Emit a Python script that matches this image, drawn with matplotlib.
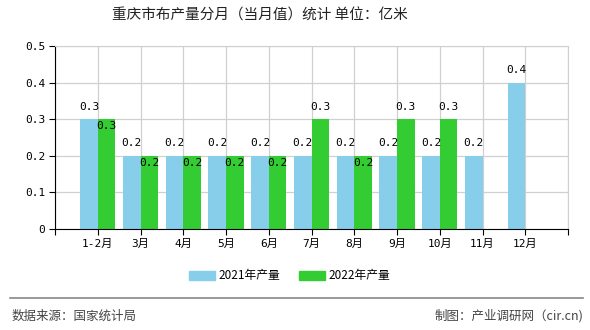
import numpy as np
import matplotlib.pyplot as plt
from matplotlib.patches import Patch

months = ["1-2月", "3月", "4月", "5月", "6月", "7月", "8月", "9月", "10月", "11月", "12月"]
y2021 = [0.3, 0.2, 0.2, 0.2, 0.2, 0.2, 0.2, 0.2, 0.2, 0.2, 0.4]
y2022 = [0.3, 0.2, 0.2, 0.2, 0.2, 0.3, 0.2, 0.3, 0.3, None, None]
yticks = [0, 0.1, 0.2, 0.3, 0.4, 0.5]
ytick_labels = ["0", "0.1", "0.2", "0.3", "0.4", "0.5"]

c21 = "#87CEEB"
c22 = "#33CC33"
numfont = ["DejaVu Sans Mono", "Noto Sans CJK SC"]
cjk = ["Noto Sans CJK SC", "DejaVu Sans"]

fig = plt.figure(figsize=(5.9, 3.3), dpi=100)
ax = fig.add_axes([55 / 590, 101 / 330, 513 / 590, 183 / 330])

x = np.arange(1, len(months) + 1)
w = 0.41
ax.bar(x - w / 2, y2021, width=w, color=c21, zorder=2)
x22 = [xi for xi, v in zip(x, y2022) if v is not None]
v22 = [v for v in y2022 if v is not None]
ax.bar(np.array(x22) + w / 2, v22, width=w, color=c22, zorder=2)

for xi, v in zip(x, y2021):
    ax.text(xi - w / 2, v + 0.02, f"{v:.1f}", ha="center", va="bottom",
            fontsize=8, family=numfont, zorder=3)
for xi, v, b in zip(x, y2022, y2021):
    if v is None:
        continue
    if v > b:
        ax.text(xi + w / 2, v + 0.02, f"{v:.1f}", ha="center", va="bottom",
                fontsize=8, family=numfont, zorder=3)
    else:
        ax.text(xi + w / 2, v - 0.005, f"{v:.1f}", ha="center", va="top",
                fontsize=8, family=numfont, zorder=3)

ax.set_xlim(0, len(months) + 1)
ax.set_ylim(0, 0.5)
ax.set_xticks(np.arange(0, len(months) + 2))
ax.set_xticklabels([""] + months + [""], family=numfont, fontsize=8)
ax.set_yticks(yticks)
ax.set_yticklabels(ytick_labels, family=numfont, fontsize=8)
ax.grid(True, color="#d0d0d0", linewidth=0.9, zorder=0)
ax.set_axisbelow(True)
for s in ["top", "right"]:
    ax.spines[s].set_color("#d0d0d0")
ax.spines["left"].set_color("black")
ax.spines["bottom"].set_color("black")
ax.tick_params(length=4, width=0.8, pad=3)

fig.text(260 / 590, 1 - 16 / 330, "重庆市布产量分月（当月值）统计 单位：亿米",
         ha="center", va="center", fontsize=10.5, family=cjk, color="#222222")

handles = [Patch(color=c21, label="2021年产量"), Patch(color=c22, label="2022年产量")]
fig.legend(handles=handles, loc="center", bbox_to_anchor=(290 / 590, 1 - 276 / 330),
           ncol=2, frameon=False, prop={"family": cjk, "size": 8.5},
           handlelength=2.2, handleheight=0.8, columnspacing=1.6, handletextpad=0.3)

fig.add_artist(plt.Line2D([10 / 590, 583 / 590], [1 - 298 / 330, 1 - 298 / 330],
                          color="#888888", linewidth=1.2))
fig.text(12 / 590, 1 - 316 / 330, "数据来源：国家统计局", ha="left", va="center",
         fontsize=9, family=cjk, color="#444444")
fig.text(583 / 590, 1 - 316 / 330, "制图：产业调研网（cir.cn)", ha="right", va="center",
         fontsize=9, family=cjk, color="#444444")

fig.savefig("out.png", dpi=100)
